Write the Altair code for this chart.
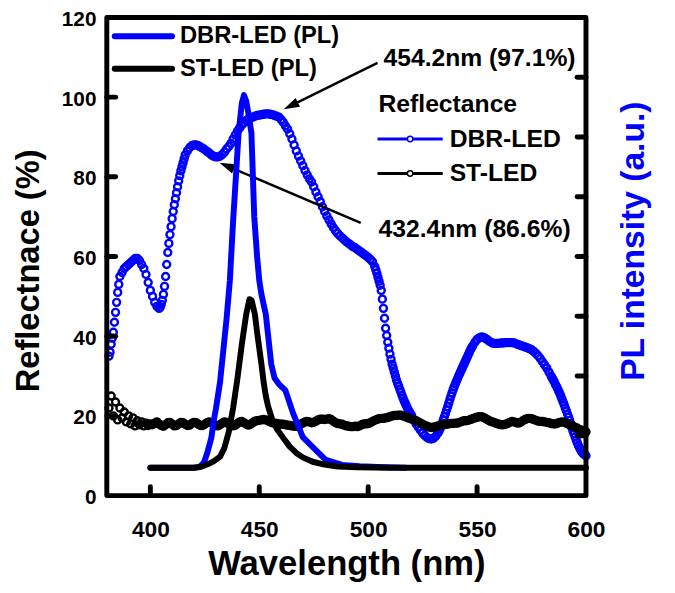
import math
import altair as alt
import pandas as pd

# ---------------- data ----------------
refl_series = ["DBR-LED", "ST-LED"]
pl_series = ["DBR-LED (PL)", "ST-LED (PL)"]

refl_wl = list(range(381, 601))
dbr_refl = [
    35, 38, 41, 46, 51, 55, 56, 57, 57.5, 58,
    58.5, 59, 59.5, 59.5, 59, 58, 57, 55.5, 53.5, 51.5,
    50, 48.5, 47.5, 47, 48, 50.5, 55, 61, 65.5, 69.5,
    73, 76, 79, 81.5, 83.5, 85.5, 86.5, 87.3, 87.8, 88,
    88, 87.8, 87.5, 87.2, 86.8, 86.4, 86, 85.5, 85.2, 85,
    85, 85.2, 85.6, 86.2, 87, 87.6, 88.4, 89.5, 90.5, 91.5,
    92.3, 93, 93.6, 94.1, 94.5, 94.8, 95, 95.2, 95.4, 95.5,
    95.6, 95.7, 95.8, 95.8, 95.7, 95.6, 95.4, 95.2, 95, 94.4,
    93.7, 92.8, 92, 90.8, 89.5, 88, 86.5, 85.2, 84, 82.8,
    81.6, 80.5, 79.5, 78.7, 77.5, 76.2, 75, 73.8, 72.5, 71.3,
    70.2, 69.2, 68.2, 67.3, 66.5, 65.8, 65.2, 64.7, 64.2, 63.7,
    63.3, 62.9, 62.5, 62.2, 61.8, 61.4, 61, 60.6, 60.2, 59.8,
    59.3, 58.7, 57.5, 55.8, 53.8, 51.5, 47, 42, 38.5, 35.5,
    33, 31, 29, 27.5, 26, 24.5, 23.2, 22, 21, 20,
    19, 18, 17.2, 16.4, 15.7, 15.1, 14.6, 14.3, 14.2, 14.4,
    14.9, 15.7, 16.8, 18.2, 19.8, 21.5, 23.2, 25, 26.6, 28,
    29.3, 30.6, 31.8, 33, 34.2, 35.4, 36.6, 37.6, 38.5, 39.2,
    39.6, 39.8, 39.7, 39.4, 39, 38.6, 38.3, 38.2, 38.2, 38.2,
    38.3, 38.3, 38.4, 38.4, 38.4, 38.4, 38.3, 38.1, 37.9, 37.7,
    37.5, 37.3, 37.1, 36.9, 36.6, 36.2, 35.7, 35.1, 34.4, 33.6,
    32.8, 32, 31, 30, 29, 27.9, 26.8, 25.6, 24.2, 22.8,
    21.3, 19.7, 18, 16.3, 14.8, 13.3, 12, 11, 10.4, 10,
]
# extra half-step readings where the DBR curve is steep
dbr_refl_half_wl = [
    381.5, 382.5, 383.5, 384.5, 385.5,
    404.5, 405.5, 406.5, 407.5, 408.5, 409.5, 410.5, 411.5, 412.5, 413.5, 414.5, 415.5,
    503.5, 504.5, 505.5, 506.5, 507.5, 508.5, 509.5, 510.5, 511.5, 512.5, 513.5,
    514.5, 515.5, 516.5, 517.5, 518.5, 519.5,
    532.5, 533.5, 534.5, 535.5, 536.5, 537.5, 538.5, 539.5, 540.5, 541.5, 542.5,
    543.5, 544.5, 545.5, 546.5, 547.5,
    584.5, 585.5, 586.5, 587.5, 588.5, 589.5, 590.5, 591.5, 592.5, 593.5, 594.5,
    595.5, 596.5, 597.5, 598.5, 599.5,
]
dbr_refl_half = [
    36, 39.5, 43.5, 48.5, 53,
    47.3, 49, 52.5, 58, 63.3, 67.5, 71.3, 74.5, 77.5, 80.3, 82.5, 84.5,
    56.7, 54.8, 52.8, 49.3, 44.5, 40.2, 37, 34.2, 32, 30, 28.2,
    26.7, 25.2, 23.8, 22.6, 21.5, 20.5,
    16.2, 17.5, 19, 20.6, 22.3, 24.1, 25.8, 27.3, 28.7, 30, 31.2,
    32.4, 33.6, 34.8, 36, 37.1,
    29.5, 28.5, 27.4, 26.2, 24.9, 23.5, 22, 20.5, 18.9, 17.1, 15.5,
    14, 12.6, 11.5, 10.7, 10.2,
]
st_refl = [
    22, 25, 20, 23.5, 19, 22, 19.5, 21, 18.5, 20,
    18, 19.5, 17.5, 18.8, 17.8, 18.5, 17.5, 18.2, 17.6, 18,
    17.8, 18.2, 18.5, 18.0, 17.6, 17.4, 17.8, 18.3, 18.4, 17.9,
    17.5, 17.6, 18.0, 18.4, 18.3, 17.9, 17.6, 17.7, 18.1, 18.4,
    18.3, 17.9, 17.6, 17.6, 17.9, 18.3, 18.5, 18.3, 17.9, 17.6,
    17.5, 17.8, 18.2, 18.5, 18.4, 18.0, 17.6, 17.5, 17.7, 18.1,
    18.5, 18.6, 18.3, 17.9, 17.7, 17.9, 18.3, 18.7, 18.8, 18.9,
    19.0, 19.1, 19.0, 18.8, 18.5, 18.3, 18.2, 18.1, 18.0, 17.9,
    17.9, 17.8, 17.7, 17.6, 17.5, 17.4, 17.4, 17.6, 17.9, 18.2,
    18.5, 18.6, 18.5, 18.3, 18.4, 18.7, 19.0, 19.2, 19.2, 19.1,
    19.2, 19.3, 19.1, 18.7, 18.3, 18.1, 18.0, 17.9, 17.7, 17.5,
    17.4, 17.3, 17.3, 17.4, 17.3, 17.5, 17.8, 18.0, 18.0, 18.1,
    18.3, 18.6, 18.9, 19.1, 19.3, 19.4, 19.4, 19.5, 19.6, 19.8,
    20.0, 20.1, 20.1, 20.2, 20.2, 20.0, 19.8, 19.6, 19.4, 19.2,
    19.0, 18.8, 18.5, 18.2, 17.9, 17.6, 17.4, 17.2, 17.1, 17.2,
    17.3, 17.5, 17.6, 17.8, 17.8, 17.9, 18.0, 18.1, 18.1, 18.2,
    18.2, 18.4, 18.6, 18.8, 18.8, 18.9, 19.1, 19.3, 19.5, 19.7,
    19.8, 19.8, 19.6, 19.3, 19.0, 18.7, 18.5, 18.3, 18.1, 17.9,
    17.8, 17.8, 17.9, 18.1, 18.4, 18.6, 18.5, 18.3, 18.2, 18.4,
    18.8, 19.1, 19.3, 19.4, 19.3, 19.1, 18.9, 18.7, 18.6, 18.6,
    18.5, 18.4, 18.3, 18.1, 18.0, 18.0, 18.2, 18.4, 18.5, 18.4,
    18.2, 17.9, 17.6, 17.4, 17.2, 16.9, 16.6, 16.4, 16.2, 16.0,
]

dbr_pl_wl = [400, 410, 420, 422.5, 424.5, 426, 428, 429, 430, 432, 433.5, 435,
             436.5, 438, 439.5, 440.5, 442, 443, 444, 445, 446.4, 447.7, 449,
             450, 451, 452, 453, 454.5, 455.5, 457, 459, 462, 465.5, 470,
             474.5, 480.5, 488, 496, 504.5, 517]
dbr_pl = [7, 7, 7, 7.2, 8.2, 10.5, 14.5, 18.5, 21.5, 28.5, 36.5, 44.5,
          54, 69, 82, 91, 98.5, 100.5, 99, 96, 91, 70, 60,
          54, 50.5, 48, 45.5, 38, 33, 29.5, 28, 26.4, 20.7, 14.7,
          12.2, 9, 7.7, 7.4, 7.2, 7]
st_pl_wl = [400, 410, 420, 423, 426, 429, 432, 434, 436, 438, 440, 442, 444,
            445.5, 446.5, 448, 449, 450, 451, 452, 453, 454, 456, 458, 461,
            464, 467, 470, 474.5, 480, 486, 495, 510, 530, 560, 600]
st_pl = [7, 7, 7, 7.2, 7.8, 8.6, 9.8, 12, 16, 22, 29.5, 38, 45.5,
         49.3, 49, 45.5, 41, 37, 33, 28.5, 25, 22.5, 19, 16.8, 14.5,
         12.3, 10.7, 9.6, 8.5, 7.8, 7.3, 7.1, 7, 7, 7, 7]

x_tick_values = [400, 450, 500, 550, 600]
y_left_ticks = [0, 20, 40, 60, 80, 100, 120]
y_right_ticks = [15, 30, 45, 60, 75, 90, 105]

annotation_texts = ["454.2nm (97.1%)", "432.4nm (86.6%)"]
legend_title = "Reflectance"

# ---------------- styling ----------------
W, H = 485, 484
FONT = "Liberation Sans"
BLUE = "#0000ff"
colors = [BLUE, "black"]

dbr_df = pd.DataFrame({
    "wl": refl_wl + dbr_refl_half_wl,
    "val": dbr_refl + dbr_refl_half,
}).sort_values("wl")
dbr_df["series"] = refl_series[0]
st_df = pd.DataFrame({"wl": refl_wl, "val": st_refl, "series": refl_series[1]})
refl_df = pd.concat([dbr_df, st_df], ignore_index=True)

pl_df = pd.DataFrame({
    "wl": dbr_pl_wl + st_pl_wl,
    "val": dbr_pl + st_pl,
    "series": [pl_series[0]] * len(dbr_pl_wl) + [pl_series[1]] * len(st_pl_wl),
})

x_enc = alt.X(
    "wl:Q",
    scale=alt.Scale(domain=[380, 600], nice=False, zero=False),
    axis=alt.Axis(
        values=x_tick_values, title="Wavelength (nm)", ticks=False, domain=False,
        grid=False, labelFont=FONT, labelFontSize=23, labelFontWeight="bold",
        labelColor="black", labelPadding=23, labelFlush=False,
        titleFont=FONT, titleFontSize=35, titleFontWeight="bold", titleColor="black",
        titleX=W / 2, titleY=80, titleAlign="center", titleBaseline="alphabetic",
    ),
)
y_left = alt.Y(
    "val:Q",
    scale=alt.Scale(domain=[0, 120], nice=False, zero=False),
    axis=alt.Axis(
        orient="left", values=y_left_ticks, title="Reflectnace (%)", ticks=False,
        domain=False, grid=False, labelFont=FONT, labelFontSize=21,
        labelFontWeight="bold", labelColor="black", labelPadding=11, labelFlush=False,
        labelOffset=2,
        titleFont=FONT, titleFontSize=33, titleFontWeight="bold", titleColor="black",
        titleAngle=270, titleX=-69, titleY=256, titleAlign="center",
        titleBaseline="alphabetic",
    ),
)
y_right = alt.Y(
    "val:Q",
    scale=alt.Scale(domain=[0, 120], nice=False, zero=False),
    axis=alt.Axis(
        orient="right", labels=False, ticks=False, domain=False, grid=False,
        title="PL intensity (a.u.)", titleFont=FONT, titleFontSize=34,
        titleFontWeight="bold", titleColor=BLUE, titleAngle=270, titleX=58,
        titleY=226, titleAlign="center", titleBaseline="alphabetic",
    ),
)

# reflectance (open circles, densely packed)
refl_points = alt.Chart(refl_df).mark_point(
    shape="circle", filled=False, size=50, strokeWidth=2.4, opacity=1
).encode(
    x=x_enc, y=y_left,
    color=alt.Color("series:N", scale=alt.Scale(domain=refl_series, range=colors), legend=None),
)

# axis ticks drawn inward
left_ticks = alt.Chart(pd.DataFrame({"val": y_left_ticks[1:-1]})).mark_rule(
    color="black", strokeWidth=5, strokeCap="round"
).encode(y=y_left, x=alt.value(0), x2=alt.value(9))
bottom_ticks = alt.Chart(pd.DataFrame({"wl": x_tick_values[:-1]})).mark_rule(
    color="black", strokeWidth=5, strokeCap="round"
).encode(x=x_enc, y=alt.value(H), y2=alt.value(H - 9))


def text_at(txt, x, y, size=24, color="black", align="left", baseline="alphabetic"):
    return alt.Chart().mark_text(
        font=FONT, fontSize=size, fontWeight="bold", color=color, align=align,
        baseline=baseline,
    ).encode(x=alt.value(x), y=alt.value(y), text=alt.value(txt))


def arrow(x0, y0, x1, y1):
    ang = (math.degrees(math.atan2(x1 - x0, -(y1 - y0))) + 360) % 360
    L = math.hypot(x1 - x0, y1 - y0)
    ux, uy = (x1 - x0) / L, (y1 - y0) / L
    shaft = alt.Chart().mark_rule(color="black", strokeWidth=2.5).encode(
        x=alt.value(x0), y=alt.value(y0),
        x2=alt.value(x1 - ux * 10), y2=alt.value(y1 - uy * 10),
    )
    head = alt.Chart().mark_point(
        shape="M0,0L0.5,1.6L-0.5,1.6Z", filled=True, color="black", size=400,
        angle=ang, opacity=1, strokeWidth=0,
    ).encode(x=alt.value(x1), y=alt.value(y1))
    return [shaft, head]


ann1 = [text_at(annotation_texts[0], 280, 49, size=25)] + arrow(274, 46, 179, 93)
ann2 = [text_at(annotation_texts[1], 275, 222, size=25)] + arrow(257, 208, 114, 147)

# manual legends
legend_layers = []
for i, (name, col) in enumerate(zip(pl_series, colors)):
    yy = 19 + i * 33
    legend_layers.append(
        alt.Chart().mark_rule(color=col, strokeWidth=6, strokeCap="round").encode(
            x=alt.value(8), x2=alt.value(66), y=alt.value(yy))
    )
    legend_layers.append(text_at(name, 74, yy, baseline="middle", size=24))

legend_layers.append(text_at(legend_title, 275, 88, baseline="middle", size=25))
for i, (name, col) in enumerate(zip(refl_series, colors)):
    yy = 123 + i * 35
    legend_layers.append(
        alt.Chart().mark_rule(color=col, strokeWidth=3).encode(
            x=alt.value(274), x2=alt.value(340), y=alt.value(yy))
    )
    legend_layers.append(
        alt.Chart().mark_point(shape="circle", filled=True, fill="white", stroke=col,
                               strokeWidth=1.5, size=30, opacity=1).encode(
            x=alt.value(307), y=alt.value(yy))
    )
    legend_layers.append(text_at(name, 347, yy, baseline="middle", size=25))

left_group = alt.layer(
    refl_points, left_ticks, bottom_ticks, *ann1, *ann2, *legend_layers
)

# PL lines on right axis
pl_lines = alt.Chart(pl_df).mark_line(
    strokeWidth=6, strokeCap="round", strokeJoin="round"
).encode(
    x=x_enc, y=y_right,
    color=alt.Color("series:N", scale=alt.Scale(domain=pl_series, range=colors), legend=None),
)
right_ticks = alt.Chart(pd.DataFrame({"val": y_right_ticks})).mark_rule(
    color="black", strokeWidth=5, strokeCap="round"
).encode(y=y_right, x=alt.value(W - 9), x2=alt.value(W))

frame = alt.Chart().mark_rect(
    filled=False, stroke="black", strokeWidth=5, strokeJoin="round"
).encode(x=alt.value(0), x2=alt.value(W), y=alt.value(0), y2=alt.value(H))

right_group = alt.layer(pl_lines, right_ticks, frame)

chart = alt.layer(left_group, right_group).resolve_scale(
    y="independent", color="independent"
).properties(
    width=W, height=H,
    autosize=alt.AutoSizeParams(type="none"),
    padding={"left": 100, "top": 6, "right": 82, "bottom": 95},
).configure_view(
    strokeWidth=0
).configure(background="white")

chart.save("out.html", embed_options={"renderer": "svg", "actions": False})
